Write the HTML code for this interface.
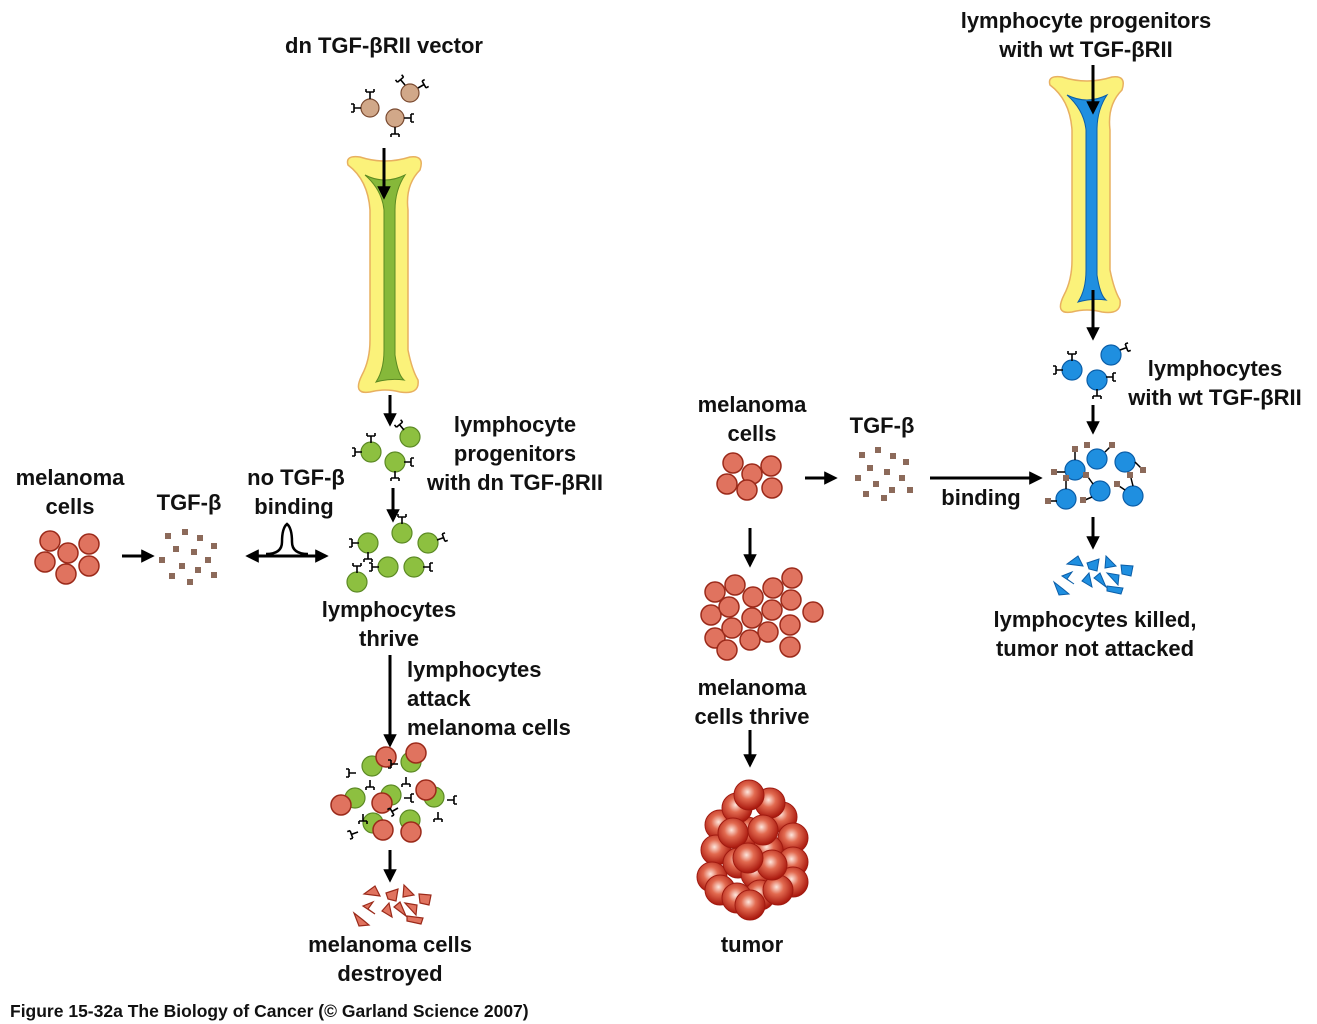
<!DOCTYPE html>
<html><head><meta charset="utf-8"><style>
html,body{margin:0;padding:0;background:#fff}
svg{display:block}
text{font-family:"Liberation Sans",sans-serif;font-weight:bold;font-size:22px;fill:#111;text-anchor:middle}
</style></head><body>
<svg width="1317" height="1024" viewBox="0 0 1317 1024" xmlns="http://www.w3.org/2000/svg">
<defs>
<marker id="ah" viewBox="0 0 10 10" refX="8" refY="5" markerWidth="4.5" markerHeight="4.5" orient="auto"><path d="M0,0 L10,5 L0,10 z" fill="#000"/></marker>
<radialGradient id="tg" cx="0.45" cy="0.4" r="0.6"><stop offset="0" stop-color="#fde6dc"/><stop offset="0.4" stop-color="#e26a50"/><stop offset="1" stop-color="#a8160c"/></radialGradient>
<circle id="r" r="10" fill="#e0735f" stroke="#9b2a1a" stroke-width="1.5"/>
<circle id="g" r="10" fill="#8dc040" stroke="#5c8a25" stroke-width="1.2"/>
<circle id="b" r="10" fill="#1f8fe0" stroke="#0b5ea8" stroke-width="1.2"/>
<circle id="t" r="15" fill="url(#tg)" stroke="#a01a10" stroke-width="1"/>
<circle id="v" r="9" fill="#d1a889" stroke="#7a4a30" stroke-width="1.2"/>
<rect id="s" x="-3" y="-3" width="6" height="6" fill="#8c6a5a"/>
<g id="rc"><path d="M0,0 v-7 M-4,-7 h8 M-4,-7 v-3 M4,-7 v-3" stroke="#000" stroke-width="1.6" fill="none"/></g>
</defs>

<!-- LEFT BONE -->
<path d="M348,165 Q345,155 360,157 Q385,165 410,157 Q425,155 420,170 Q405,185 408,210 L408,350 Q412,370 418,380 Q420,395 400,392 Q385,388 370,392 Q352,395 362,375 Q370,360 370,340 L370,210 Q368,180 348,165 Z" fill="#fbf27a" stroke="#e8b060" stroke-width="1.5"/>
<path d="M365,175 Q385,185 405,175 Q395,190 395,210 L395,355 Q398,375 404,380 Q390,378 376,382 Q384,370 384,350 L384,210 Q382,190 365,175 Z" fill="#86b83a" stroke="#5b8a22" stroke-width="1"/>
<!-- RIGHT BONE -->
<path d="M1050,85 Q1047,75 1062,77 Q1087,85 1112,77 Q1127,75 1122,90 Q1107,105 1110,130 L1110,270 Q1114,290 1120,300 Q1122,315 1102,312 Q1087,308 1072,312 Q1054,315 1064,295 Q1072,280 1072,260 L1072,130 Q1070,100 1050,85 Z" fill="#fbf27a" stroke="#e8b060" stroke-width="1.5"/>
<path d="M1067,95 Q1087,105 1107,95 Q1097,110 1097,130 L1097,275 Q1100,295 1106,300 Q1092,298 1078,302 Q1086,290 1086,270 L1086,130 Q1084,110 1067,95 Z" fill="#1f8fe0" stroke="#0b5ea8" stroke-width="1"/>

<!-- ARROWS -->
<g stroke="#000" stroke-width="3" fill="none" marker-end="url(#ah)">
<line x1="384" y1="148" x2="384" y2="197"/>
<line x1="390" y1="395" x2="390" y2="424"/>
<line x1="393" y1="488" x2="393" y2="520"/>
<line x1="390" y1="655" x2="390" y2="745"/>
<line x1="390" y1="850" x2="390" y2="880"/>
<line x1="750" y1="528" x2="750" y2="565"/>
<line x1="750" y1="730" x2="750" y2="765"/>
<line x1="1093" y1="65" x2="1093" y2="112"/>
<line x1="1093" y1="290" x2="1093" y2="338"/>
<line x1="1093" y1="405" x2="1093" y2="432"/>
<line x1="1093" y1="517" x2="1093" y2="547"/>
<line x1="122" y1="556" x2="152" y2="556"/>
<line x1="805" y1="478" x2="835" y2="478"/>
<line x1="930" y1="478" x2="1040" y2="478"/>
<line x1="287" y1="556" x2="248" y2="556"/>
<line x1="287" y1="556" x2="326" y2="556"/>
</g>
<path d="M266,554 Q282,554 282,542 Q282,528 287,524 Q292,528 292,542 Q292,554 308,554" stroke="#000" stroke-width="2.5" fill="none"/>

<!-- vectors -->
<g><use href="#v" x="370" y="108"/><use href="#v" x="410" y="93"/><use href="#v" x="395" y="118"/>
<use href="#rc" x="370" y="99"/><use href="#rc" x="361" y="108" transform="rotate(-90 361 108)"/><use href="#rc" x="395" y="127" transform="rotate(180 395 127)"/><use href="#rc" x="404" y="118" transform="rotate(90 404 118)"/><use href="#rc" x="405" y="85" transform="rotate(-40 405 85)"/><use href="#rc" x="418" y="88" transform="rotate(60 418 88)"/></g>

<!-- left melanoma -->
<g><use href="#r" x="50" y="541"/><use href="#r" x="89" y="544"/><use href="#r" x="68" y="553"/><use href="#r" x="45" y="562"/><use href="#r" x="66" y="574"/><use href="#r" x="89" y="566"/></g>
<g><use href="#s" x="168" y="536"/><use href="#s" x="185" y="532"/><use href="#s" x="200" y="538"/><use href="#s" x="214" y="546"/><use href="#s" x="176" y="549"/><use href="#s" x="194" y="552"/><use href="#s" x="162" y="560"/><use href="#s" x="208" y="560"/><use href="#s" x="182" y="566"/><use href="#s" x="198" y="570"/><use href="#s" x="172" y="576"/><use href="#s" x="214" y="575"/><use href="#s" x="190" y="582"/></g>

<!-- progenitors green -->
<g><use href="#g" x="371" y="452"/><use href="#g" x="410" y="437"/><use href="#g" x="395" y="462"/>
<use href="#rc" x="371" y="443"/><use href="#rc" x="404" y="430" transform="rotate(-40 404 430)"/><use href="#rc" x="404" y="462" transform="rotate(90 404 462)"/><use href="#rc" x="395" y="471" transform="rotate(180 395 471)"/><use href="#rc" x="362" y="452" transform="rotate(-90 362 452)"/></g>
<!-- thrive green -->
<g><use href="#g" x="368" y="543"/><use href="#g" x="402" y="533"/><use href="#g" x="428" y="543"/><use href="#g" x="388" y="567"/><use href="#g" x="414" y="567"/><use href="#g" x="357" y="582"/>
<use href="#rc" x="359" y="543" transform="rotate(-90 359 543)"/><use href="#rc" x="402" y="524"/><use href="#rc" x="437" y="540" transform="rotate(70 437 540)"/><use href="#rc" x="379" y="567" transform="rotate(-90 379 567)"/><use href="#rc" x="423" y="567" transform="rotate(90 423 567)"/><use href="#rc" x="357" y="573"/><use href="#rc" x="368" y="552" transform="rotate(180 368 552)"/></g>

<!-- attack cluster -->
<g><use href="#g" x="372" y="766"/><use href="#r" x="386" y="757"/>
<use href="#g" x="411" y="762"/><use href="#r" x="416" y="753"/>
<use href="#g" x="355" y="798"/><use href="#r" x="341" y="805"/>
<use href="#g" x="391" y="795"/><use href="#r" x="382" y="803"/>
<use href="#g" x="434" y="797"/><use href="#r" x="426" y="790"/>
<use href="#g" x="373" y="823"/><use href="#r" x="383" y="830"/>
<use href="#g" x="410" y="820"/><use href="#r" x="411" y="832"/>
<use href="#rc" x="356" y="773" transform="rotate(-90 356 773)"/><use href="#rc" x="370" y="780" transform="rotate(180 370 780)"/><use href="#rc" x="398" y="764" transform="rotate(-90 398 764)"/><use href="#rc" x="406" y="777" transform="rotate(180 406 777)"/><use href="#rc" x="363" y="814" transform="rotate(180 363 814)"/><use href="#rc" x="404" y="798" transform="rotate(90 404 798)"/><use href="#rc" x="447" y="800" transform="rotate(90 447 800)"/><use href="#rc" x="438" y="812" transform="rotate(180 438 812)"/><use href="#rc" x="358" y="832" transform="rotate(-110 358 832)"/><use href="#rc" x="398" y="808" transform="rotate(-120 398 808)"/></g>
<!-- fragments red -->
<g fill="#e0735f" stroke="#9b2a1a" stroke-width="1.2">
<path d="M364,894 l11,-8 l5,10 z"/><path d="M386,893 l12,-4 l-2,12 l-8,-2 z"/><path d="M404,885 l10,10 l-11,2 z"/><path d="M419,894 l12,1 l-2,10 l-9,-2 z"/><path d="M363,906 l10,-4 l-5,7 l7,5 z"/><path d="M382,911 l7,-8 l3,14 z"/><path d="M394,907 l6,-5 l6,14 z"/><path d="M405,903 l12,2 l-1,10 z"/><path d="M407,916 l16,2 l-2,6 l-14,-3 z"/><path d="M354,913 l9,7 l6,5 l-10,1 z"/>
</g>

<!-- middle melanoma -->
<g><use href="#r" x="733" y="463"/><use href="#r" x="752" y="474"/><use href="#r" x="771" y="466"/><use href="#r" x="727" y="484"/><use href="#r" x="747" y="490"/><use href="#r" x="772" y="488"/></g>
<g><use href="#s" x="862" y="455"/><use href="#s" x="878" y="450"/><use href="#s" x="893" y="456"/><use href="#s" x="906" y="462"/><use href="#s" x="870" y="468"/><use href="#s" x="887" y="472"/><use href="#s" x="858" y="478"/><use href="#s" x="902" y="478"/><use href="#s" x="876" y="484"/><use href="#s" x="892" y="490"/><use href="#s" x="866" y="494"/><use href="#s" x="910" y="490"/><use href="#s" x="884" y="498"/></g>
<!-- thrive red -->
<g><use href="#r" x="715" y="592"/><use href="#r" x="735" y="585"/><use href="#r" x="753" y="597"/><use href="#r" x="773" y="588"/><use href="#r" x="792" y="578"/><use href="#r" x="711" y="615"/><use href="#r" x="729" y="607"/><use href="#r" x="791" y="600"/><use href="#r" x="772" y="610"/><use href="#r" x="752" y="618"/><use href="#r" x="813" y="612"/><use href="#r" x="715" y="638"/><use href="#r" x="732" y="628"/><use href="#r" x="750" y="640"/><use href="#r" x="768" y="632"/><use href="#r" x="790" y="625"/><use href="#r" x="727" y="650"/><use href="#r" x="790" y="647"/></g>
<!-- tumor -->
<g><use href="#t" x="720" y="825"/><use href="#t" x="747" y="832"/><use href="#t" x="782" y="817"/><use href="#t" x="737" y="808"/><use href="#t" x="770" y="803"/><use href="#t" x="749" y="795"/><use href="#t" x="793" y="838"/><use href="#t" x="716" y="850"/><use href="#t" x="768" y="850"/><use href="#t" x="793" y="862"/><use href="#t" x="712" y="877"/><use href="#t" x="738" y="863"/><use href="#t" x="756" y="874"/><use href="#t" x="793" y="882"/><use href="#t" x="720" y="890"/><use href="#t" x="760" y="895"/><use href="#t" x="778" y="890"/><use href="#t" x="737" y="898"/><use href="#t" x="750" y="905"/><use href="#t" x="733" y="833"/><use href="#t" x="772" y="865"/><use href="#t" x="748" y="858"/><use href="#t" x="763" y="830"/></g>

<!-- right lymphocytes -->
<g><use href="#b" x="1072" y="370"/><use href="#b" x="1111" y="355"/><use href="#b" x="1097" y="380"/>
<use href="#rc" x="1072" y="361"/><use href="#rc" x="1063" y="370" transform="rotate(-90 1063 370)"/><use href="#rc" x="1120" y="350" transform="rotate(70 1120 350)"/><use href="#rc" x="1106" y="377" transform="rotate(90 1106 377)"/><use href="#rc" x="1097" y="389" transform="rotate(180 1097 389)"/></g>
<g><use href="#b" x="1075" y="470"/><use href="#b" x="1097" y="459"/><use href="#b" x="1125" y="462"/><use href="#b" x="1066" y="499"/><use href="#b" x="1100" y="491"/><use href="#b" x="1133" y="496"/>
<g stroke="#000" stroke-width="1.5"><line x1="1075" y1="460" x2="1075" y2="452"/><line x1="1065" y1="472" x2="1057" y2="472"/><line x1="1105" y1="452" x2="1110" y2="447"/><line x1="1135" y1="462" x2="1142" y2="469"/><line x1="1066" y1="489" x2="1066" y2="481"/><line x1="1057" y1="501" x2="1050" y2="501"/><line x1="1093" y1="484" x2="1088" y2="477"/><line x1="1092" y1="497" x2="1085" y2="500"/><line x1="1125" y1="490" x2="1119" y2="486"/><line x1="1133" y1="486" x2="1131" y2="478"/></g>
<use href="#s" x="1075" y="449"/><use href="#s" x="1054" y="472"/><use href="#s" x="1087" y="445"/><use href="#s" x="1112" y="445"/><use href="#s" x="1143" y="470"/><use href="#s" x="1066" y="478"/><use href="#s" x="1048" y="501"/><use href="#s" x="1086" y="475"/><use href="#s" x="1083" y="500"/><use href="#s" x="1117" y="484"/><use href="#s" x="1130" y="475"/></g>
<!-- blue fragments -->
<g fill="#1f8fe0" stroke="#0b5ea8" stroke-width="1">
<path d="M1067,564 l11,-8 l5,10 z"/><path d="M1087,563 l12,-4 l-2,12 l-8,-2 z"/><path d="M1106,556 l10,10 l-11,2 z"/><path d="M1121,565 l12,1 l-2,10 l-9,-2 z"/><path d="M1062,576 l10,-4 l-5,7 l7,5 z"/><path d="M1082,581 l7,-8 l3,14 z"/><path d="M1094,578 l6,-5 l6,14 z"/><path d="M1107,573 l12,2 l-1,10 z"/><path d="M1107,586 l16,2 l-2,6 l-14,-3 z"/><path d="M1054,582 l9,7 l6,5 l-10,1 z"/>
</g>

<!-- TEXT -->
<text x="384" y="53">dn TGF-βRII vector</text>
<text x="1086" y="28">lymphocyte progenitors</text>
<text x="1086" y="57">with wt TGF-βRII</text>
<text x="515" y="432">lymphocyte</text>
<text x="515" y="461">progenitors</text>
<text x="515" y="490">with dn TGF-βRII</text>
<text x="70" y="485">melanoma</text>
<text x="70" y="514">cells</text>
<text x="189" y="510">TGF-β</text>
<text x="296" y="485">no TGF-β</text>
<text x="294" y="514">binding</text>
<text x="389" y="617">lymphocytes</text>
<text x="389" y="646">thrive</text>
<text x="407" y="677" style="text-anchor:start">lymphocytes</text>
<text x="407" y="706" style="text-anchor:start">attack</text>
<text x="407" y="735" style="text-anchor:start">melanoma cells</text>
<text x="390" y="952">melanoma cells</text>
<text x="390" y="981">destroyed</text>
<text x="752" y="412">melanoma</text>
<text x="752" y="441">cells</text>
<text x="882" y="433">TGF-β</text>
<text x="981" y="505">binding</text>
<text x="752" y="695">melanoma</text>
<text x="752" y="724">cells thrive</text>
<text x="752" y="952">tumor</text>
<text x="1215" y="376">lymphocytes</text>
<text x="1215" y="405">with wt TGF-βRII</text>
<text x="1095" y="627">lymphocytes killed,</text>
<text x="1095" y="656">tumor not attacked</text>
<text x="10" y="1017" style="text-anchor:start;font-size:17.5px">Figure 15-32a  The Biology of Cancer (© Garland Science 2007)</text>
</svg>
</body></html>
